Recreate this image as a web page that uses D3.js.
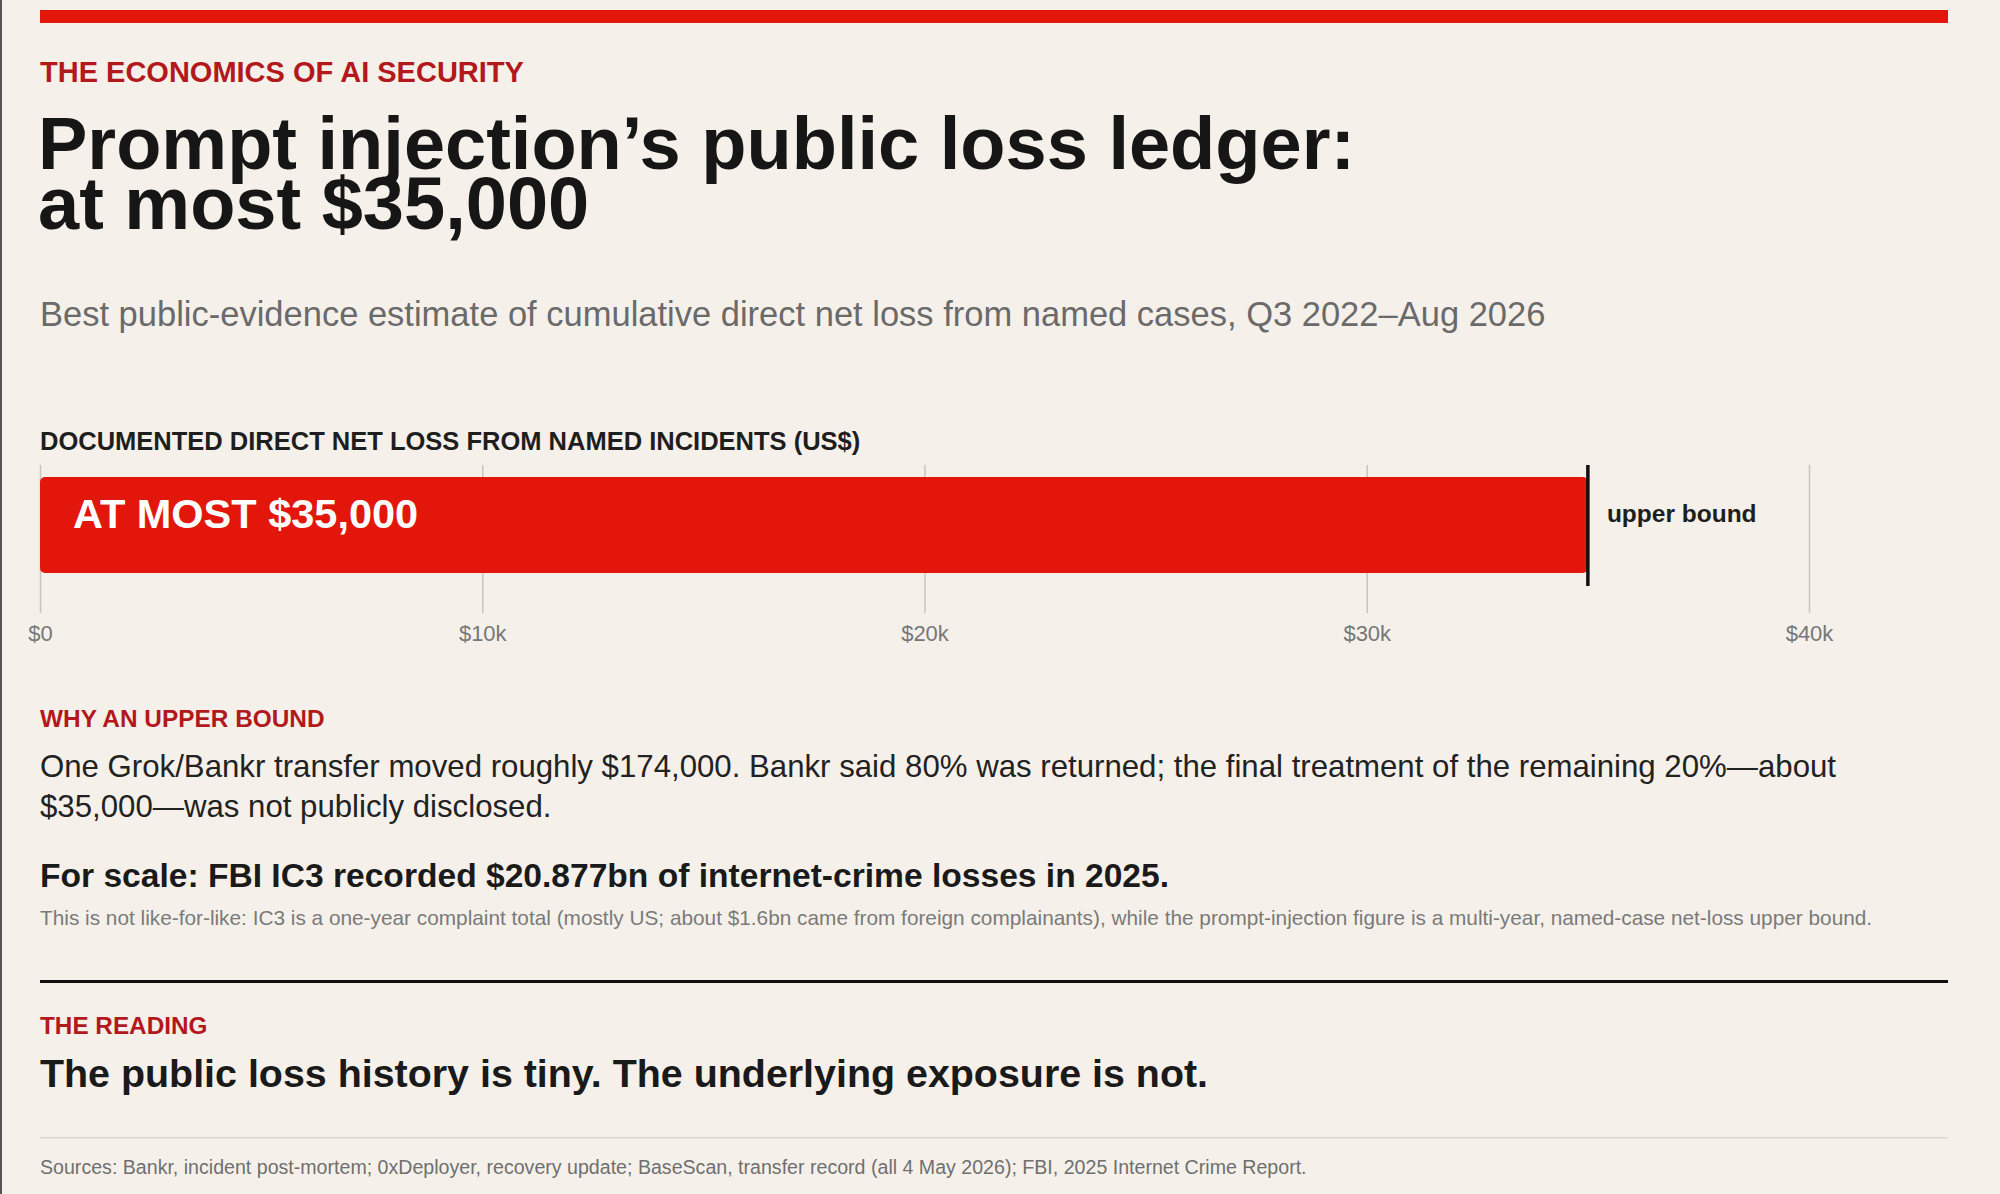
<!DOCTYPE html>
<html>
<head>
<meta charset="utf-8">
<script src="https://cdn.jsdelivr.net/npm/d3@7"></script>
<style>
  html, body { margin: 0; padding: 0; background: #f5f1ea; }
  svg { display: block; font-family: "Liberation Sans", Arial, Helvetica, sans-serif; }
</style>
</head>
<body>
<div id="chart"></div>
<script>
// ---- data ----
const kicker = "THE ECONOMICS OF AI SECURITY"
const titleLines = ["Prompt injection\u2019s public loss ledger:", "at most $35,000"]
const subtitle = "Best public-evidence estimate of cumulative direct net loss from named cases, Q3 2022\u2013Aug 2026"
const chartLabel = "DOCUMENTED DIRECT NET LOSS FROM NAMED INCIDENTS (US$)"
const lossValues = [35000]
const barLabels = ["AT MOST $35,000"]
const boundLabel = "upper bound"
const tickValues = [0, 10000, 20000, 30000, 40000]
const tickLabels = ["$0", "$10k", "$20k", "$30k", "$40k"]
const whyHead = "WHY AN UPPER BOUND"
const whyLines = [
  "One Grok/Bankr transfer moved roughly $174,000. Bankr said 80% was returned; the final treatment of the remaining 20%\u2014about",
  "$35,000\u2014was not publicly disclosed."
]
const scaleLine = "For scale: FBI IC3 recorded $20.877bn of internet-crime losses in 2025."
const scaleNote = "This is not like-for-like: IC3 is a one-year complaint total (mostly US; about $1.6bn came from foreign complainants), while the prompt-injection figure is a multi-year, named-case net-loss upper bound."
const readingHead = "THE READING"
const readingLine = "The public loss history is tiny. The underlying exposure is not."
const sources = "Sources: Bankr, incident post-mortem; 0xDeployer, recovery update; BaseScan, transfer record (all 4 May 2026); FBI, 2025 Internet Crime Report."

// ---- layout ----
const width = 2000
const height = 1194
const left = 40
const right = 1948
const red = '#e3160c'
const darkRed = '#b3181c'

const svg = d3.select('#chart')
  .append('svg')
    .attr('width', width)
    .attr('height', height)

svg.append('rect')
  .attr('width', width).attr('height', height)
  .attr('fill', '#f5f1ea')

// page edge
svg.append('line')
  .attr('x1', 1).attr('x2', 1).attr('y1', 0).attr('y2', height)
  .attr('stroke', '#555').attr('stroke-width', 2)

// top rule
svg.append('rect')
  .attr('x', left).attr('y', 10)
  .attr('width', right - left).attr('height', 13)
  .attr('fill', red)

const addText = (txt, x, y, size, weight, fill) =>
  svg.append('text')
    .attr('x', x).attr('y', y)
    .style('font-size', size + 'px')
    .style('font-weight', weight)
    .attr('fill', fill)
    .text(txt)

addText(kicker, left, 82, 29, 700, darkRed)

svg.append('g').selectAll('text')
  .data(titleLines)
  .enter().append('text')
    .attr('x', left - 2)
    .attr('y', (d, i) => 169 + i * 60)
    .style('font-size', '74px')
    .style('font-weight', 700)
    .attr('fill', '#161616')
    .text(d => d)

addText(subtitle, left, 326, 34.5, 400, '#6a6a6a')

addText(chartLabel, left, 450, 25.5, 700, '#1e1e1e')

// ---- bar chart ----
const xScale = d3.scaleLinear()
  .domain([0, 40000])
  .range([left, 1809])

const plotTop = 465
const plotBottom = 613

const grid = svg.append('g')
  .attr('transform', `translate(0, ${plotBottom})`)
  .call(d3.axisBottom(xScale)
    .tickValues(tickValues)
    .tickFormat((d, i) => tickLabels[i])
    .tickSize(-(plotBottom - plotTop))
    .tickPadding(12))

grid.select('.domain').remove()
grid.selectAll('.tick line')
  .attr('stroke', '#c9c5bd')
  .attr('stroke-width', 1.5)
grid.selectAll('.tick text')
  .attr('fill', '#777')
  .style('font-size', '22px')
  .style('font-family', '"Liberation Sans", Arial, sans-serif')

const barY = 477
const barH = 96

svg.append('g').selectAll('rect')
  .data(lossValues)
  .enter().append('rect')
    .attr('x', xScale(0))
    .attr('y', barY)
    .attr('width', d => xScale(d) - xScale(0))
    .attr('height', barH)
    .attr('rx', 5)
    .attr('fill', red)

svg.append('g').selectAll('text')
  .data(barLabels)
  .enter().append('text')
    .attr('x', xScale(0) + 33)
    .attr('y', barY + 51)
    .style('font-size', '41.5px')
    .style('font-weight', 700)
    .attr('fill', '#fff')
    .text(d => d)

// upper bound marker
svg.append('line')
  .attr('x1', xScale(lossValues[0])).attr('x2', xScale(lossValues[0]))
  .attr('y1', plotTop).attr('y2', 586)
  .attr('stroke', '#111').attr('stroke-width', 3.5)

addText(boundLabel, xScale(lossValues[0]) + 19, 522, 24.5, 700, '#1e1e1e')

// ---- notes ----
addText(whyHead, left, 727, 24.4, 700, darkRed)

svg.append('g').selectAll('text')
  .data(whyLines)
  .enter().append('text')
    .attr('x', left)
    .attr('y', (d, i) => 777 + i * 40)
    .style('font-size', '31.2px')
    .attr('fill', '#222')
    .text(d => d)

addText(scaleLine, left, 887, 33.6, 700, '#1a1a1a')
addText(scaleNote, left, 925, 20.8, 400, '#7a7a7a')

svg.append('rect')
  .attr('x', left).attr('y', 980)
  .attr('width', right - left).attr('height', 3)
  .attr('fill', '#111')

addText(readingHead, left, 1034, 24.3, 700, darkRed)
addText(readingLine, left, 1087, 39.4, 700, '#1a1a1a')

svg.append('rect')
  .attr('x', left).attr('y', 1137)
  .attr('width', right - left).attr('height', 1.5)
  .attr('fill', '#dcd8d0')

addText(sources, left, 1174, 19.6, 400, '#6f6f6f')
</script>
</body>
</html>
